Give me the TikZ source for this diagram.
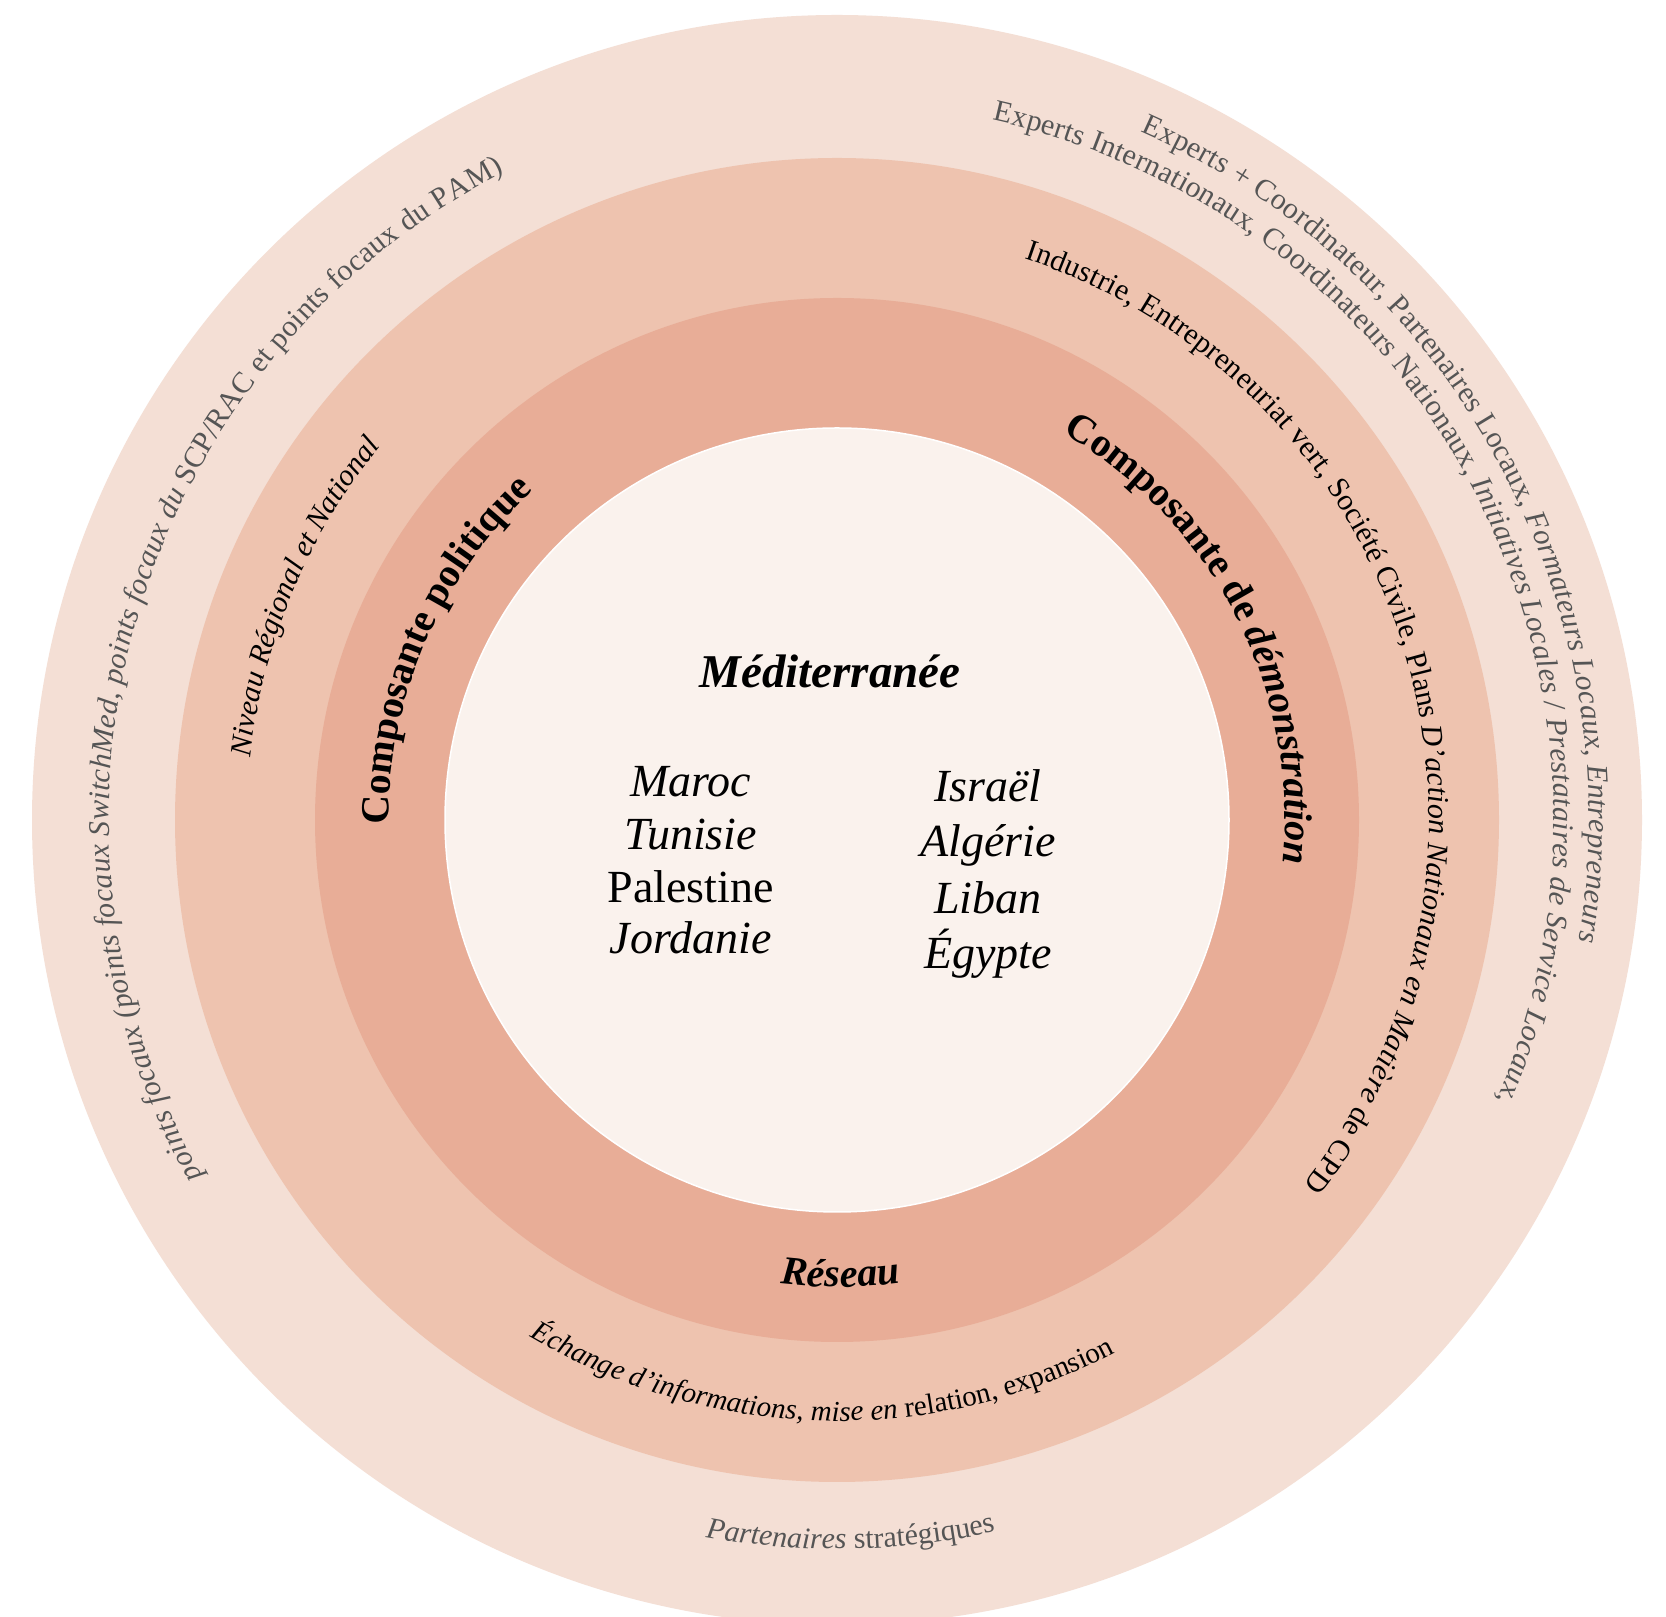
\documentclass[tikz,border=0pt]{standalone}
\usepackage{fontspec}
\setmainfont{Liberation Serif}
\usetikzlibrary{decorations.text}
\definecolor{ringA}{HTML}{F4DFD5}
\definecolor{ringB}{HTML}{EEC3AF}
\definecolor{ringC}{HTML}{E8AD97}
\definecolor{core}{HTML}{FAF2ED}
\definecolor{txtgray}{HTML}{555555}
\newcommand{\smsz}{\fontsize{29}{33}\selectfont}
\newcommand{\mdsz}{\fontsize{30}{34}\selectfont}
\newcommand{\bgsz}{\fontsize{40}{44}\selectfont}
\newcommand{\ctsz}{\fontsize{46}{52}\selectfont}
% clockwise arc: radius, mid angle, half span, text
\newcommand{\cwtext}[4]{\path[decorate,decoration={text along path,text align=center,text={#4}}] (C) ++(#2+#3:#1pt) arc[start angle=#2+#3, end angle=#2-#3, radius=#1pt];}
% counter-clockwise arc
\newcommand{\ccwtext}[4]{\path[decorate,decoration={text along path,text align=center,text={#4}}] (C) ++(#2-#3:#1pt) arc[start angle=#2-#3, end angle=#2+#3, radius=#1pt];}
% arc with exact start / end angle, text spread over it
\newcommand{\fittext}[4]{\path[decorate,decoration={text along path,text align={fit to path},text={#4}}] (C) ++(#2:#1pt) arc[start angle=#2, end angle=#3, radius=#1pt];}
\tikzset{
  country/.style={anchor=base, font=\ctsz\itshape, text=black, inner sep=0pt},
  countryup/.style={anchor=base, font=\ctsz\upshape, text=black, inner sep=0pt},
}
\begin{document}
\begin{tikzpicture}[x=1pt,y=1pt]
\useasboundingbox (0,0) rectangle (1666,1617);
\fill[white] (0,0) rectangle (1666,1617);
\clip (0,0) rectangle (1666,1617);
\coordinate (C) at (837,797);
% rings
\fill[ringA] (C) circle[radius=805pt];
\fill[ringB] (C) circle[radius=662pt];
\fill[ringC] (C) circle[radius=522pt];
\fill[core, draw=white, line width=1.5pt] (C) circle[radius=392pt];

% outer ring texts
\fittext{752}{66.2}{-9.2}{|\mdsz\color{txtgray}\upshape|Experts + Coordinateur, Partenaires Locaux, |\mdsz\color{txtgray}\itshape|Formateurs Locaux, Entrepreneurs}
\fittext{717}{77.5}{-23}{|\mdsz\color{txtgray}\upshape|Experts Internationaux, Coordinateurs Nationaux, |\mdsz\color{txtgray}\itshape|Initiatives Locales / Prestataires de Service Locaux,}
\fittext{728}{209.3}{117.2}{|\mdsz\color{txtgray}\itshape|points focaux (points focaux SwitchMed, points focaux du |\mdsz\color{txtgray}\upshape|SCP/RAC et points focaux du PAM)}
\ccwtext{729}{-88.9}{40}{|\mdsz\color{txtgray}\itshape|Partenaires |\mdsz\color{txtgray}\upshape|stratégiques}

% middle ring texts
\fittext{592}{71.5}{-38}{|\mdsz\color{black}\upshape|Industrie, Entrepreneuriat vert, Société Civile, Plans |\mdsz\color{black}\itshape|D’action Nationaux en Matière |\mdsz\color{black}\upshape|de CPD}
\cwtext{590}{157.3}{40}{|\mdsz\color{black}\itshape|Niveau Régional et National}
\ccwtext{601}{-91.6}{60}{|\smsz\color{black}\itshape|Échange d’informations, mise en |\smsz\color{black}\upshape|relation, expansion}

% inner ring texts
\cwtext{448}{156.6}{50}{|\bgsz\color{black}\bfseries\upshape|Composante politique}
\cwtext{448}{27.1}{60}{|\bgsz\color{black}\bfseries\upshape|Composante de |\bgsz\color{black}\bfseries\itshape|démonstration}
\ccwtext{467}{-89.6}{30}{|\bgsz\color{black}\bfseries\itshape|Réseau}

% centre
\node[anchor=base, font=\fontsize{47}{52}\selectfont\bfseries\itshape, inner sep=0pt] (medit) at (830,929) {Méditerranée};
\node[country] (maroc) at (690.6,820) {Maroc};
\node[country] (tunisie) at (690.6,767) {Tunisie};
\node[countryup] (palestine) at (690.6,714) {Palestine};
\node[country] (jordanie) at (690.6,663) {Jordanie};
\node[country] (israel) at (988,815) {Israël};
\node[country] (algerie) at (988,760) {Algérie};
\node[country] (liban) at (988,703) {Liban};
\node[country] (egypte) at (988,648) {Égypte};
\end{tikzpicture}
\end{document}
